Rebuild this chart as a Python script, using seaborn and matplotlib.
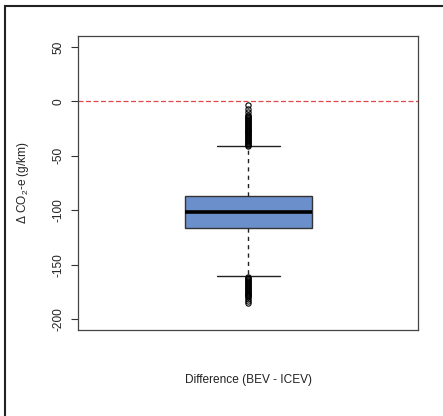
import matplotlib
matplotlib.use("Agg")
import numpy as np
import seaborn as sns
import matplotlib.pyplot as plt
from matplotlib.lines import Line2D

# ---- data ----
category = ["Difference (BEV - ICEV)"]
median = [-102.0]
q1 = [-116.5]
q3 = [-86.5]
whisker_low = [-160.5]
whisker_high = [-41.0]
upper_outliers = [-3.8, -6.9, -9.9, -12.4, -13.3, -14.2, -15.1, -16.0, -16.9,
                  -17.8, -18.7, -19.6, -20.5, -21.4, -22.3, -23.2, -24.1, -25.0,
                  -25.9, -26.8, -27.7, -28.6, -29.5, -30.4, -31.3, -32.2, -33.1,
                  -34.0, -34.9, -35.8, -36.7, -37.6, -38.5, -39.4, -40.3, -41.2]
lower_outliers = [-161.2, -162.1, -163.0, -163.9, -164.8, -165.7, -166.6, -167.5,
                  -168.4, -169.3, -170.2, -171.1, -172.0, -172.9, -173.8, -174.7,
                  -175.6, -176.5, -177.4, -178.3, -179.2, -180.1, -181.8, -183.6,
                  -185.4]
y_ticks = [-200, -150, -100, -50, 0, 50]
y_label = "Δ CO$_{2}$-e (g/km)"

sns.set_theme(style="ticks")
plt.rcParams["font.family"] = ["Liberation Sans", "DejaVu Sans"]
plt.rcParams["mathtext.fontset"] = "custom"
plt.rcParams["mathtext.rm"] = "Liberation Sans"
plt.rcParams["mathtext.it"] = "Liberation Sans:italic"
plt.rcParams["mathtext.default"] = "regular"
plt.rcParams["axes.unicode_minus"] = False

fig = plt.figure(figsize=(4.43, 4.16), dpi=100, facecolor="white")
ax = fig.add_axes([78.3 / 443, 86 / 416, (418 - 78.3) / 443, 294 / 416])

stats = [dict(med=median[0], q1=q1[0], q3=q3[0],
              whislo=whisker_low[0], whishi=whisker_high[0],
              fliers=np.array(upper_outliers + lower_outliers),
              label=category[0])]

ax.axhline(0, color="#e04848", linestyle=(0, (4, 2)), linewidth=0.9, zorder=1)

ax.bxp(stats, positions=[1], widths=0.373, capwidths=0.185, patch_artist=True,
       showfliers=True,
       boxprops=dict(facecolor="#6b8fca", edgecolor="#333333", linewidth=1.0),
       medianprops=dict(color="black", linewidth=2.6),
       whiskerprops=dict(color="#222222", linestyle=(0, (3, 3)), linewidth=1.0),
       capprops=dict(color="#222222", linewidth=1.0),
       flierprops=dict(marker="o", markerfacecolor="none", markeredgecolor="black",
                       markersize=3.8, markeredgewidth=0.8))

ax.set_xlim(0.5, 1.5)
ax.set_ylim(-210, 60)
ax.set_xticks([])
ax.set_yticks(y_ticks)
ax.set_yticklabels([str(t) for t in y_ticks])
ax.tick_params(axis="y", left=True, direction="out", length=5, width=0.8,
               color="#333333", pad=5, labelsize=8.6, labelcolor="#222222")
plt.setp(ax.get_yticklabels(), rotation=90, va="center")

for s in ax.spines.values():
    s.set_visible(True)
    s.set_color("#444444")
    s.set_linewidth(0.9)

ax.set_xlabel(category[0], fontsize=8.6, color="#222222")
ax.set_ylabel(y_label, fontsize=8.6, color="#222222")
ax.xaxis.set_label_coords(0.5, -(374 - 330) / 294)
ax.yaxis.set_label_coords((31 - 78.3) / 339.7, 0.5)

# outer frame (left and top edges)
x0 = 5 / 443
yt = 1 - 5.7 / 416
fig.add_artist(Line2D([x0, x0, 1.0], [0.0, yt, yt], transform=fig.transFigure,
                      color="#222222", linewidth=1.5, solid_joinstyle="miter"))

fig.savefig("out.png", dpi=100, facecolor="white")
